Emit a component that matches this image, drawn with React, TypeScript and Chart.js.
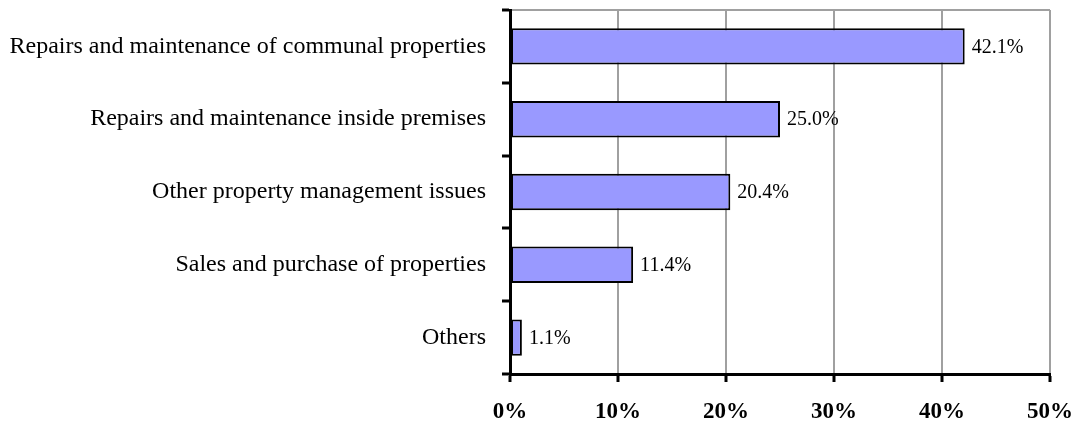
import React, { useEffect, useRef } from "react";
import { Chart, registerables } from "chart.js";

Chart.register(...registerables);

const categories: string[] = [
  "Repairs and maintenance of communal properties",
  "Repairs and maintenance inside premises",
  "Other property management issues",
  "Sales and purchase of properties",
  "Others",
];
const shares: number[] = [42.1, 25.0, 20.4, 11.4, 1.1];
const axisMin = 0;
const axisMax = 50;
const axisStep = 10;

const SERIF = "'Liberation Serif', 'Times New Roman', Times, serif";

const valueLabels = {
  id: "valueLabels",
  afterDatasetsDraw(chart: any) {
    const ctx = chart.ctx;
    const meta = chart.getDatasetMeta(0);
    ctx.save();
    ctx.font = `20px ${SERIF}`;
    ctx.fillStyle = "#000";
    ctx.textAlign = "left";
    ctx.textBaseline = "middle";
    meta.data.forEach((bar: any, i: number) => {
      const v = chart.data.datasets[0].data[i] as number;
      ctx.fillText(`${v.toFixed(1)}%`, bar.x + 7, bar.y + 1);
    });
    ctx.restore();
  },
};

export default function App() {
  const ref = useRef<HTMLCanvasElement | null>(null);

  useEffect(() => {
    document.body.style.margin = "0";
    if (!ref.current) return;
    const chart = new Chart(ref.current, {
      type: "bar",
      data: {
        labels: categories,
        datasets: [
          {
            data: shares,
            backgroundColor: "#9999FF",
            borderColor: "#000000",
            borderWidth: 2,
            borderSkipped: false,
            barPercentage: 0.5,
            categoryPercentage: 1,
          },
        ],
      },
      options: {
        indexAxis: "y",
        animation: false,
        responsive: true,
        maintainAspectRatio: false,
        layout: { padding: { top: 10, right: 32, left: 0, bottom: 0 } },
        plugins: {
          legend: { display: false },
          tooltip: { enabled: false },
        },
        scales: {
          x: {
            min: axisMin,
            max: axisMax,
            ticks: {
              stepSize: axisStep,
              callback: (v: any) => `${v}%`,
              color: "#000",
              font: { family: SERIF, size: 23, weight: "bold" },
              padding: 16,
              maxRotation: 0,
            },
            grid: {
              color: "#a0a0a0",
              lineWidth: 2,
              tickColor: "#000",
              tickWidth: 3,
              tickLength: 8,
            },
            border: { color: "#000", width: 3 },
            afterFit: (scale: any) => {
              scale.height = 50;
              scale.paddingLeft = 0;
              scale.paddingRight = 0;
            },
          },
          y: {
            ticks: {
              color: "#000",
              font: { family: SERIF, size: 24 },
              padding: 16,
            },
            grid: {
              offset: true,
              color: (c: any) => (c.index === 0 ? "#a0a0a0" : "rgba(0,0,0,0)"),
              lineWidth: 2,
              tickColor: "#000",
              tickWidth: 3,
              tickLength: 8,
            },
            border: { color: "#000", width: 3 },
            afterFit: (scale: any) => {
              scale.width = 510;
              scale.paddingTop = 0;
              scale.paddingBottom = 0;
            },
          },
        },
      },
      plugins: [valueLabels],
    });
    return () => chart.destroy();
  }, []);

  return (
    <div style={{ position: "relative", width: 1082, height: 424 }}>
      <canvas ref={ref} />
    </div>
  );
}
